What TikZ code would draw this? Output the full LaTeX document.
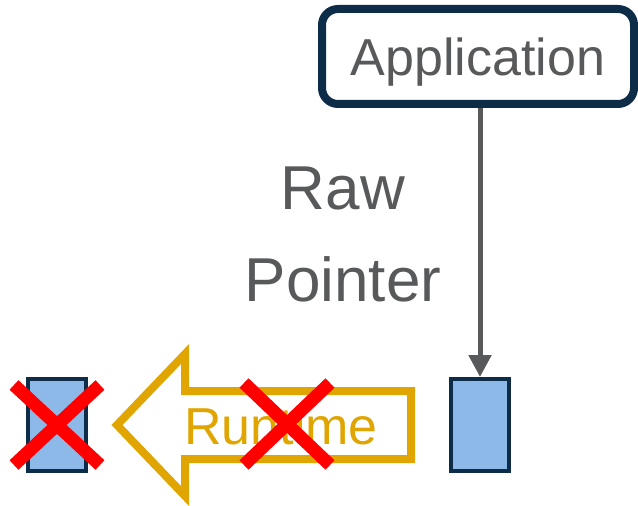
\documentclass[tikz,border=0pt]{standalone}
\usepackage{fontspec}
\setmainfont{Liberation Sans}
\usetikzlibrary{arrows.meta,calc}
\definecolor{navy}{HTML}{0D2C48}
\definecolor{txtgray}{HTML}{58595B}
\definecolor{cellblue}{HTML}{8DB9E8}
\definecolor{rtorange}{HTML}{E0A500}
\definecolor{xred}{HTML}{FF0000}
\tikzset{
  appbox/.style={draw=navy, line width=8bp, rounded corners=16bp, fill=white,
    minimum width=312bp, minimum height=95bp, inner sep=0pt, text depth=0pt,
    text=txtgray, font=\fontsize{52bp}{60bp}\selectfont},
  cell/.style={draw=navy, line width=4bp, fill=cellblue,
    minimum width=58bp, minimum height=92bp, inner sep=0pt},
  ptr/.style={draw=txtgray, line width=5bp, -{Triangle[width=22bp,length=22bp]}},
  hollowarrow/.style={draw=rtorange, line width=8bp, line join=miter},
  cross/.style={draw=xred, line width=13bp},
  label/.style={text=txtgray, align=center, font=\fontsize{62bp}{92bp}\selectfont},
}
\begin{document}
\begin{tikzpicture}[x=1bp, y=-1bp]
  \useasboundingbox (0,0) rectangle (638,506);

  % application box and raw pointer into the live cell
  \node[appbox] (app) at (478,56.5) {Application};
  \node[cell] (blkR) at (480,425) {};
  \node[cell] (blkL) at (56.5,425) {};
  \draw[ptr] (app.south -| blkR.north) -- (blkR.north);
  \node[label] (raw) at (343,234) {Raw\\Pointer};

  % hollow runtime arrow pointing left
  \draw[hollowarrow] (117,425) -- (185,354) -- (185,391) -- (411,391)
    -- (411,459) -- (185,459) -- (185,496) -- cycle;
  \node[text=rtorange, font=\fontsize{52bp}{60bp}\selectfont, anchor=west, inner sep=0pt]
    (rt) at (184,426) {Runtime};

  % red crosses
  \coordinate (xl) at (57,425);
  \coordinate (xr) at (287,424);
  \draw[cross] ($(xl)+(-43,-40)$) -- ($(xl)+(43,40)$);
  \draw[cross] ($(xl)+(-43,40)$) -- ($(xl)+(43,-40)$);
  \draw[cross] ($(xr)+(-43,-41)$) -- ($(xr)+(43,41)$);
  \draw[cross] ($(xr)+(-43,41)$) -- ($(xr)+(43,-41)$);
\end{tikzpicture}
\end{document}
